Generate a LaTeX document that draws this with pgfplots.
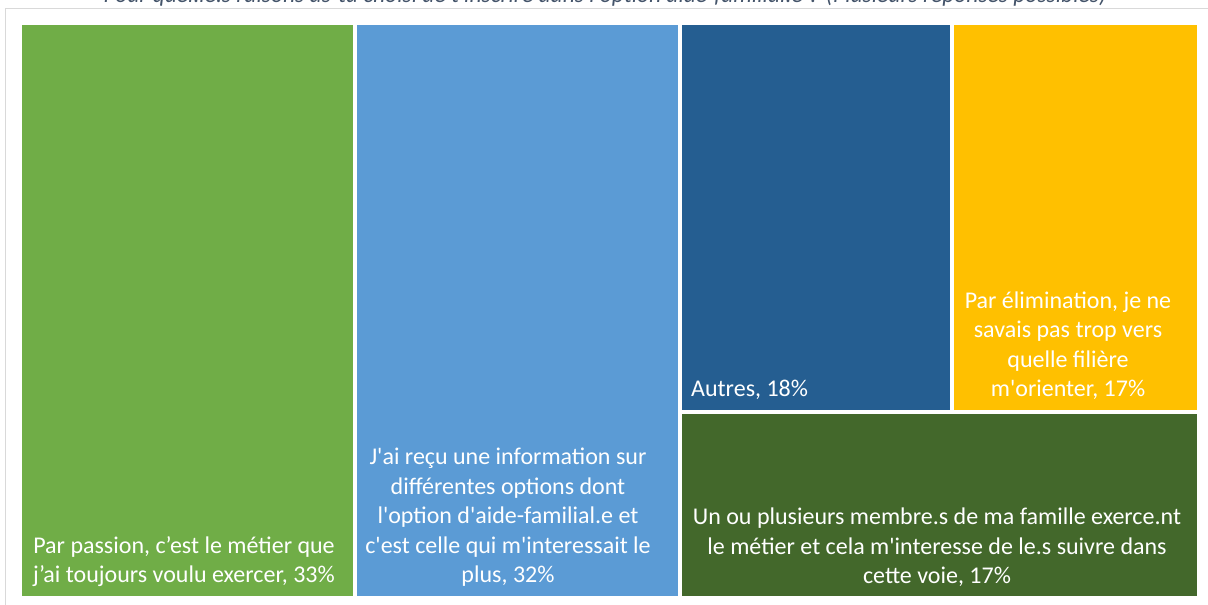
\documentclass[border=0pt]{standalone}
\usepackage{pgfplots}
\pgfplotsset{compat=1.18}
\usepackage{fontspec}
\setmainfont{Carlito}
\definecolor{cGreen}{HTML}{70AD47}
\definecolor{cLBlue}{HTML}{5B9BD5}
\definecolor{cDBlue}{HTML}{255E91}
\definecolor{cYellow}{HTML}{FFC000}
\definecolor{cDGreen}{HTML}{43682B}
\definecolor{cTitle}{HTML}{44546A}
\definecolor{cFrame}{HTML}{D9D9D9}
\newcommand\q{\textquotesingle}
\tikzset{lbl/.style={text=white, font=\fontsize{24}{29.5}\selectfont, align=center, inner sep=0pt}}
\begin{document}
\begin{tikzpicture}
\begin{axis}[
  at={(0,0)}, anchor=south west,
  width=1208pt, height=605pt, scale only axis,
  xmin=0, xmax=1208, ymin=0, ymax=605, y dir=reverse,
  hide axis, clip=false,
]
% frame
\addplot[draw=cFrame, line width=1pt, fill=white] coordinates {(5,8) (1214,8) (1214,614) (5,614)} -- cycle;
% treemap tiles (values 33, 32, 18, 17, 17)
\addplot[fill=cGreen, draw=none] coordinates {(22,25) (353,25) (353,596) (22,596)} -- cycle;
\addplot[fill=cLBlue, draw=none] coordinates {(357,25) (678,25) (678,596) (357,596)} -- cycle;
\addplot[fill=cDBlue, draw=none] coordinates {(682,25) (950,25) (950,410) (682,410)} -- cycle;
\addplot[fill=cYellow, draw=none] coordinates {(954,25) (1197,25) (1197,410) (954,410)} -- cycle;
\addplot[fill=cDGreen, draw=none] coordinates {(682,414) (1197,414) (1197,596) (682,596)} -- cycle;
% title (cut off at the top)
\node[anchor=base, text=cTitle, font=\fontsize{23.5}{28}\selectfont\itshape] at (axis cs:605,2) {Pour quel.le.s raisons as-tu choisi de t\q inscrire dans l\q option aide-familial.e ? (Plusieurs réponses possibles)};
% labels
\node[lbl, anchor=south] at (axis cs:184,587) {Par passion, c’est le métier que\\j’ai toujours voulu exercer, 33\%};
\node[lbl, anchor=south] at (axis cs:508,587) {J\q ai reçu une information sur\\différentes options dont\\l\q option d\q aide-familial.e et\\c\q est celle qui m\q interessait le\\plus, 32\%};
\node[lbl, anchor=south west] at (axis cs:691,400) {Autres, 18\%};
\node[lbl, anchor=south] at (axis cs:1068,400) {Par élimination, je ne\\savais pas trop vers\\quelle filière\\m\q orienter, 17\%};
\node[lbl, anchor=south] at (axis cs:937,587) {Un ou plusieurs membre.s de ma famille exerce.nt\\le métier et cela m\q interesse de le.s suivre dans\\cette voie, 17\%};
\end{axis}
\pgfresetboundingbox
\useasboundingbox (0,0) rectangle (1208pt,605pt);
\end{tikzpicture}
\end{document}
